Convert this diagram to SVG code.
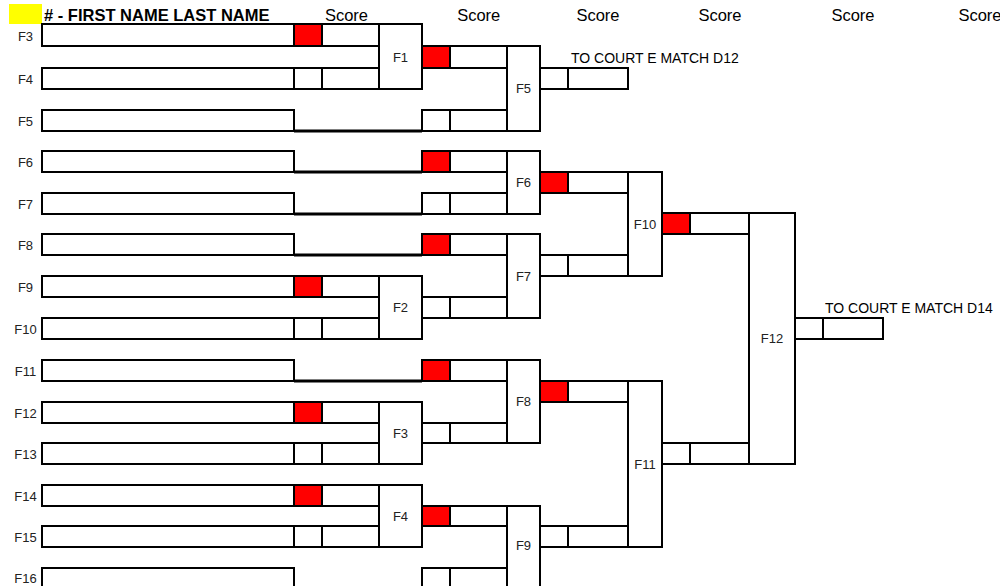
<svg xmlns="http://www.w3.org/2000/svg" width="1000" height="586" viewBox="0 0 1000 586">
<style>
.b{fill:#fff;stroke:#000;stroke-width:2}
.r{fill:#f00;stroke:#000;stroke-width:2}
.c{fill:none;stroke:#000;stroke-width:3}
.lbl{font-family:"Liberation Sans",Arial,sans-serif;font-size:13px;fill:#222;text-anchor:middle}
.hdr{font-family:"Liberation Sans",Arial,sans-serif;font-size:16.5px;fill:#000}
.sc{font-family:"Liberation Sans",Arial,sans-serif;font-size:16.5px;fill:#000;text-anchor:middle}
.to{font-family:"Liberation Sans",Arial,sans-serif;font-size:14px;fill:#000}
</style>
<rect width="1000" height="586" fill="#fff"/>
<g id="header">
<rect x="9" y="4" width="33" height="20" fill="#ff0"/>
<text class="hdr" x="44" y="21" font-weight="bold"># - FIRST NAME LAST NAME</text>
<text class="sc" x="346.5" y="21">Score</text>
<text class="sc" x="478.7" y="21">Score</text>
<text class="sc" x="598" y="21">Score</text>
<text class="sc" x="720" y="21">Score</text>
<text class="sc" x="853" y="21">Score</text>
<text class="sc" x="980" y="21">Score</text>
</g>
<g id="connectors">
<path class="c" d="M294 131H422M294 172H422M294 214H422M294 255H422M294 381H422M294 589H422"/>
</g>
<g id="player-F3"><text class="lbl" x="25.5" y="41">F3</text><rect class="b" x="42" y="24" width="252" height="22"/><rect class="r" x="294" y="24" width="28" height="22"/><rect class="b" x="322" y="24" width="57" height="22"/></g>
<g id="player-F4"><text class="lbl" x="25.5" y="84">F4</text><rect class="b" x="42" y="68" width="252" height="21"/><rect class="b" x="294" y="68" width="28" height="21"/><rect class="b" x="322" y="68" width="57" height="21"/></g>
<g id="player-F5"><text class="lbl" x="25.5" y="126">F5</text><rect class="b" x="42" y="110" width="252" height="21"/><rect class="b" x="422" y="110" width="28" height="21"/><rect class="b" x="450" y="110" width="57" height="21"/></g>
<g id="player-F6"><text class="lbl" x="25.5" y="167">F6</text><rect class="b" x="42" y="151" width="252" height="21"/><rect class="r" x="422" y="151" width="28" height="21"/><rect class="b" x="450" y="151" width="57" height="21"/></g>
<g id="player-F7"><text class="lbl" x="25.5" y="209">F7</text><rect class="b" x="42" y="193" width="252" height="21"/><rect class="b" x="422" y="193" width="28" height="21"/><rect class="b" x="450" y="193" width="57" height="21"/></g>
<g id="player-F8"><text class="lbl" x="25.5" y="250">F8</text><rect class="b" x="42" y="234" width="252" height="21"/><rect class="r" x="422" y="234" width="28" height="21"/><rect class="b" x="450" y="234" width="57" height="21"/></g>
<g id="player-F9"><text class="lbl" x="25.5" y="292">F9</text><rect class="b" x="42" y="276" width="252" height="21"/><rect class="r" x="294" y="276" width="28" height="21"/><rect class="b" x="322" y="276" width="57" height="21"/></g>
<g id="player-F10"><text class="lbl" x="25.5" y="334">F10</text><rect class="b" x="42" y="318" width="252" height="21"/><rect class="b" x="294" y="318" width="28" height="21"/><rect class="b" x="322" y="318" width="57" height="21"/></g>
<g id="player-F11"><text class="lbl" x="25.5" y="376">F11</text><rect class="b" x="42" y="360" width="252" height="21"/><rect class="r" x="422" y="360" width="28" height="21"/><rect class="b" x="450" y="360" width="57" height="21"/></g>
<g id="player-F12"><text class="lbl" x="25.5" y="418">F12</text><rect class="b" x="42" y="402" width="252" height="21"/><rect class="r" x="294" y="402" width="28" height="21"/><rect class="b" x="322" y="402" width="57" height="21"/></g>
<g id="player-F13"><text class="lbl" x="25.5" y="459">F13</text><rect class="b" x="42" y="443" width="252" height="21"/><rect class="b" x="294" y="443" width="28" height="21"/><rect class="b" x="322" y="443" width="57" height="21"/></g>
<g id="player-F14"><text class="lbl" x="25.5" y="501">F14</text><rect class="b" x="42" y="485" width="252" height="21"/><rect class="r" x="294" y="485" width="28" height="21"/><rect class="b" x="322" y="485" width="57" height="21"/></g>
<g id="player-F15"><text class="lbl" x="25.5" y="542">F15</text><rect class="b" x="42" y="526" width="252" height="21"/><rect class="b" x="294" y="526" width="28" height="21"/><rect class="b" x="322" y="526" width="57" height="21"/></g>
<g id="player-F16"><text class="lbl" x="25.5" y="583">F16</text><rect class="b" x="42" y="568" width="252" height="21"/><rect class="b" x="422" y="568" width="28" height="21"/><rect class="b" x="450" y="568" width="57" height="21"/></g>
<g id="match-F1"><rect class="b" x="379" y="24" width="43" height="65"/><text class="lbl" x="400.5" y="61.5">F1</text><rect class="r" x="422" y="46" width="28" height="22"/><rect class="b" x="450" y="46" width="57" height="22"/></g>
<g id="match-F2"><rect class="b" x="379" y="276" width="43" height="63"/><text class="lbl" x="400.5" y="312">F2</text><rect class="b" x="422" y="297" width="28" height="21"/><rect class="b" x="450" y="297" width="57" height="21"/></g>
<g id="match-F3"><rect class="b" x="379" y="402" width="43" height="62"/><text class="lbl" x="400.5" y="437.5">F3</text><rect class="b" x="422" y="423" width="28" height="20"/><rect class="b" x="450" y="423" width="57" height="20"/></g>
<g id="match-F4"><rect class="b" x="379" y="485" width="43" height="62"/><text class="lbl" x="400.5" y="520.5">F4</text><rect class="r" x="422" y="506" width="28" height="20"/><rect class="b" x="450" y="506" width="57" height="20"/></g>
<g id="match-F5"><rect class="b" x="507" y="46" width="33" height="85"/><text class="lbl" x="523.5" y="93">F5</text><rect class="b" x="540" y="68" width="28" height="21"/><rect class="b" x="568" y="68" width="60" height="21"/><text class="to" x="571" y="63">TO COURT E MATCH D12</text></g>
<g id="match-F6"><rect class="b" x="507" y="151" width="33" height="63"/><text class="lbl" x="523.5" y="187">F6</text><rect class="r" x="540" y="172" width="28" height="21"/><rect class="b" x="568" y="172" width="60" height="21"/></g>
<g id="match-F7"><rect class="b" x="507" y="234" width="33" height="84"/><text class="lbl" x="523.5" y="280.5">F7</text><rect class="b" x="540" y="255" width="28" height="21"/><rect class="b" x="568" y="255" width="60" height="21"/></g>
<g id="match-F8"><rect class="b" x="507" y="360" width="33" height="83"/><text class="lbl" x="523.5" y="406">F8</text><rect class="r" x="540" y="381" width="28" height="21"/><rect class="b" x="568" y="381" width="60" height="21"/></g>
<g id="match-F9"><rect class="b" x="507" y="506" width="33" height="100"/><text class="lbl" x="523.5" y="550">F9</text><rect class="b" x="540" y="526" width="28" height="21"/><rect class="b" x="568" y="526" width="60" height="21"/></g>
<g id="match-F10"><rect class="b" x="628" y="172" width="34" height="104"/><text class="lbl" x="645" y="228.5">F10</text><rect class="r" x="662" y="213" width="28" height="21"/><rect class="b" x="690" y="213" width="59" height="21"/></g>
<g id="match-F11"><rect class="b" x="628" y="381" width="34" height="166"/><text class="lbl" x="645" y="468.5">F11</text><rect class="b" x="662" y="443" width="28" height="21"/><rect class="b" x="690" y="443" width="59" height="21"/></g>
<g id="match-F12"><rect class="b" x="749" y="213" width="46" height="251"/><text class="lbl" x="772" y="343">F12</text><rect class="b" x="795" y="318" width="28" height="21"/><rect class="b" x="823" y="318" width="60" height="21"/><text class="to" x="825" y="313">TO COURT E MATCH D14</text></g>
</svg>
